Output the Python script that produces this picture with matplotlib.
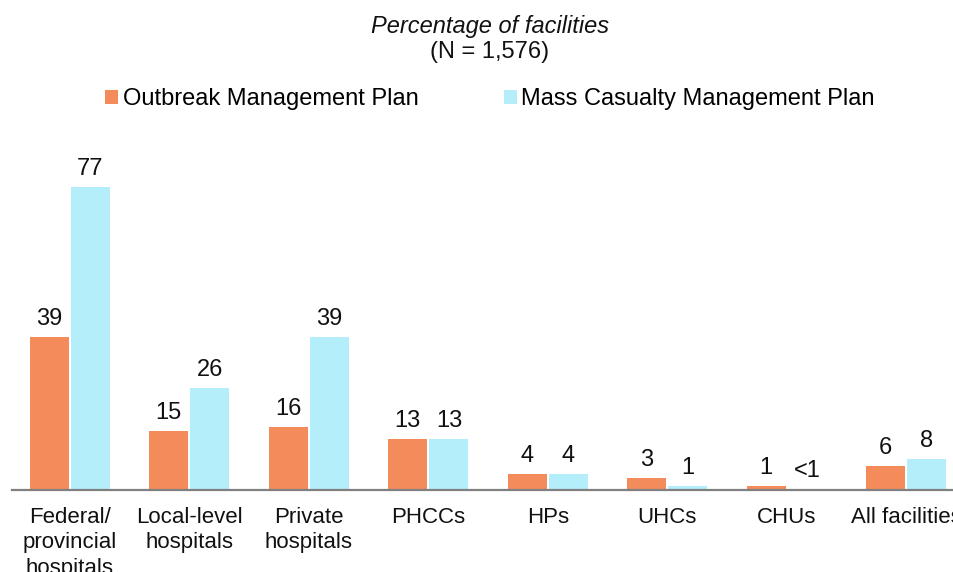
import matplotlib
matplotlib.use("Agg")
import matplotlib.pyplot as plt
import numpy as np

plt.rcParams['font.family'] = ['Liberation Sans', 'DejaVu Sans']

categories = ["Federal/\nprovincial\nhospitals", "Local-level\nhospitals", "Private\nhospitals",
              "PHCCs", "HPs", "UHCs", "CHUs", "All facilities"]
outbreak = [39, 15, 16, 13, 4, 3, 1, 6]
outbreak_labels = ["39", "15", "16", "13", "4", "3", "1", "6"]
mass = [77, 26, 39, 13, 4, 1, 0.3, 8]
mass_labels = ["77", "26", "39", "13", "4", "1", "<1", "8"]

c_orange = "#F48B5A"
c_blue = "#B4EEFB"

fig = plt.figure(figsize=(9.54, 5.72), dpi=100)
ax = fig.add_axes([12/954, 1-490/572, 1-12/954, 350/572])

x = np.arange(len(categories))
w = 0.326
off = 0.172
b1 = ax.bar(x - off, outbreak, w, color=c_orange, label="Outbreak Management Plan")
b2 = ax.bar(x + off, mass, w, color=c_blue, label="Mass Casualty Management Plan")

for bars, labs in ((b1, outbreak_labels), (b2, mass_labels)):
    for r, t in zip(bars, labs):
        ax.annotate(t, (r.get_x() + r.get_width()/2, r.get_height()),
                    xytext=(0, 5), textcoords="offset points",
                    ha="center", va="bottom", fontsize=17, color="#111111")

ax.set_xlim(-0.485, 7.4)
ax.set_ylim(0, 89)
ax.set_xticks(x)
ax.set_xticklabels(categories, fontsize=16, linespacing=1.28, color="#111111")
ax.tick_params(axis='x', length=0, pad=12)
ax.set_yticks([])
for s in ("top", "right", "left"):
    ax.spines[s].set_visible(False)
ax.spines["bottom"].set_color("#808080")
ax.spines["bottom"].set_linewidth(1.6)

fig.text(490/954, 1-27/572, "Percentage of facilities", ha="center", va="center",
         fontsize=17, style="italic", color="#111111")
fig.text(490/954, 1-52/572, "(N = 1,576)", ha="center", va="center",
         fontsize=17, color="#111111")

fig.legend(handles=[b1, b2], loc="center", bbox_to_anchor=(490/954, 1-99/572),
           ncol=2, frameon=False, fontsize=17, handlelength=0.55, handleheight=0.55,
           handletextpad=0.2, columnspacing=3.6)

fig.savefig("out.png", dpi=100)
